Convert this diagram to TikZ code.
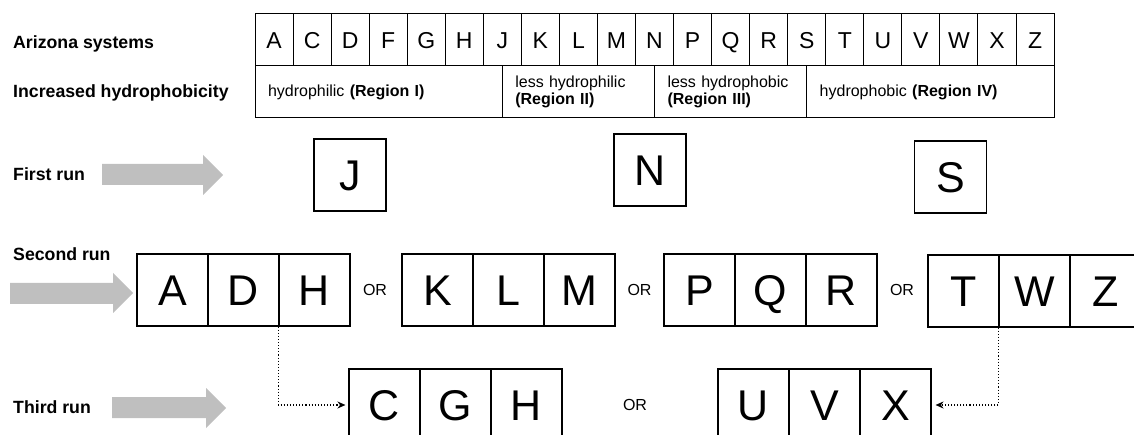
\documentclass[tikz,border=0pt]{standalone}
\usepackage{fontspec}
\setmainfont{Liberation Sans}
\usetikzlibrary{arrows.meta}
\definecolor{arrowgray}{HTML}{BFBFBF}
\begin{document}
\begin{tikzpicture}[x=1pt,y=-1pt,
  lab/.style={font=\fontsize{17.7}{20}\selectfont\bfseries, anchor=base west, inner sep=0},
  topcell/.style={draw, line width=1pt, minimum width=38.05pt, minimum height=52pt, inner sep=0, font=\fontsize{23}{26}\selectfont, text height=16.5pt, text depth=0pt},
  regcell/.style={draw, line width=1pt, minimum height=52pt, inner xsep=13pt, inner ysep=0pt, align=left, font=\fontsize{16}{17.5}\selectfont},
  bigcell/.style={draw, line width=1.1pt, minimum width=71pt, minimum height=72pt, inner sep=0, font=\fontsize{43}{48}\selectfont, text height=30.8pt, text depth=0pt},
  single/.style={bigcell, minimum width=72pt},
  ortext/.style={font=\fontsize{16}{18}\selectfont, inner sep=0},
  runarrow/.style={fill=arrowgray},
  dotconn/.style={dotted, line width=1.1pt, -{Stealth[length=8pt,width=7pt]}}
]
\useasboundingbox (0,0) rectangle (1134,435);
\clip (0,0) rectangle (1134,435);

% labels
\node[lab] (lAriz) at (13,49) {Arizona systems};
\node[lab] (lInc) at (13,98) {Increased hydrophobicity};
\node[lab] (lFirst) at (13,181) {First run};
\node[lab] (lSecond) at (13,261) {Second run};
\node[lab] (lThird) at (13,413) {Third run};

% top table
\foreach \l [count=\i from 0] in {A,C,D,F,G,H,J,K,L,M,N,P,Q,R,S,T,U,V,W,X,Z}
  \node[topcell, name=t\l] at ({255+38.05*(\i+0.5)}, 40) {\l};

\node[regcell, text width=221.3pt] (r1) at (378.65,92) {hydrophilic \textbf{(Region I)}};
\node[regcell, text width=126.2pt] (r2) at (578.4,92) {less hydrophilic\\\textbf{(Region II)}};
\node[regcell, text width=126.2pt] (r3) at (730.6,92) {less hydrophobic\\\textbf{(Region III)}};
\node[regcell, text width=221.3pt] (r4) at (930.35,92) {hydrophobic \textbf{(Region IV)}};

% run arrows
\fill[runarrow] (102,164) -- (203,164) -- (203,155) -- (223,175) -- (203,195) -- (203,185) -- (102,185) -- cycle;
\fill[runarrow] (10,283) -- (113,283) -- (113,273) -- (133,293) -- (113,313) -- (113,304) -- (10,304) -- cycle;
\fill[runarrow] (112,397) -- (206,397) -- (206,388) -- (226,408) -- (206,428) -- (206,418) -- (112,418) -- cycle;

% first run
\node[single] (fJ) at (350,175) {J};
\node[single] (fN) at (650,170) {N};
\node[single] (fS) at (950.5,177) {S};

% second run
\node[bigcell] (sA) at (172.5,290) {A};
\node[bigcell] (sD) at (243.5,290) {D};
\node[bigcell] (sH) at (314.5,290) {H};
\node[ortext] (or1) at (375,290) {OR};
\node[bigcell] (sK) at (437.5,290) {K};
\node[bigcell] (sL) at (508.5,290) {L};
\node[bigcell] (sM) at (579.5,290) {M};
\node[ortext] (or2) at (639.5,290) {OR};
\node[bigcell] (sP) at (699.5,290) {P};
\node[bigcell] (sQ) at (770.5,290) {Q};
\node[bigcell] (sR) at (841.5,290) {R};
\node[ortext] (or3) at (902,290) {OR};
\node[bigcell] (sT) at (963.5,291) {T};
\node[bigcell] (sW) at (1034.5,291) {W};
\node[bigcell] (sZ) at (1105.5,291) {Z};

% third run
\node[bigcell] (hC) at (384.5,405) {C};
\node[bigcell] (hG) at (455.5,405) {G};
\node[bigcell] (hH) at (526.5,405) {H};
\node[ortext] (or4) at (635,405) {OR};
\node[bigcell] (hU) at (753.5,405) {U};
\node[bigcell] (hV) at (824.5,405) {V};
\node[bigcell] (hX) at (895.5,405) {X};

% dotted connectors
\draw[dotconn, shorten >=3pt] (sH.south west) |- (hC.west);
\draw[dotconn, shorten >=4pt] (sW.south west) |- (hX.east);
\end{tikzpicture}
\end{document}
